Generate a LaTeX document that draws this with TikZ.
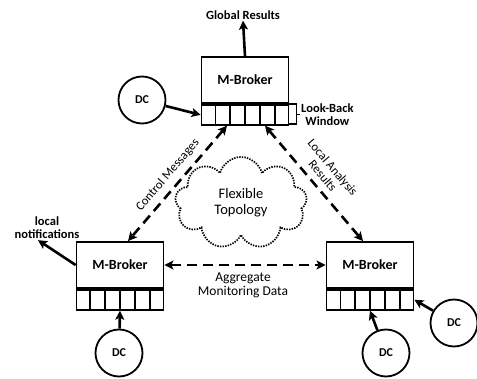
\documentclass[tikz,border=0pt]{standalone}
\usepackage{fontspec}
\setmainfont{Carlito}
\usetikzlibrary{shapes.symbols,arrows.meta,calc}

\begin{document}
\begin{tikzpicture}[x=1pt, y=-1pt,
		broker/.style={rectangle, draw, line width=1.8pt, minimum width=87pt, minimum height=46pt, font=\bfseries\fontsize{14}{16}\selectfont},
		queue/.style={rectangle, draw, line width=1.8pt, minimum width=87pt, minimum height=20pt, anchor=north},
		dc/.style={circle, draw, line width=1.8pt, minimum size=47pt, font=\bfseries\fontsize{12}{14}\selectfont},
		lbl/.style={align=center, inner sep=1pt, font=\fontsize{12.5}{13}\selectfont},
		blbl/.style={lbl, font=\bfseries\fontsize{12.5}{13}\selectfont},
		feed/.style={-{Stealth[length=9pt,width=9pt,inset=2pt]}, line width=2.6pt},
		link/.style={{Stealth[length=9pt,width=9pt,inset=2pt]}-{Stealth[length=9pt,width=9pt,inset=2pt]}, line width=2.6pt, dash pattern=on 10pt off 6pt},
	]
		\useasboundingbox (0, 0) rectangle (477, 379);
		% brokers and their queues
		\path (245, 80) node(topb) [broker] {M-Broker};
		\path (topb.south) node(topq) [queue] {};
		\path (120, 265) node(leftb) [broker] {M-Broker};
		\path (leftb.south) node(leftq) [queue] {};
		\path (370, 265) node(rightb) [broker] {M-Broker};
		\path (rightb.south) node(rightq) [queue] {};
		\foreach \q in {topq, leftq, rightq}
			\foreach \i in {1,...,5}
				\draw [line width=1.8pt] ($(\q.north west)!\i/6!(\q.north east)$) -- ($(\q.south west)!\i/6!(\q.south east)$);
		% data collectors
		\path (142, 100) node(topdc) [dc] {DC};
		\path (119, 353) node(leftdc) [dc] {DC};
		\path (386, 353) node(rightdc) [dc] {DC};
		\path (454, 323) node(edgedc) [dc] {DC};
		% texts
		\path (243, 15) node(glob) [blbl] {Global Results};
		\path (47, 228) node(notif) [blbl] {local\\notifications};
		\path (300, 115) node(window) [blbl, anchor=west] {Look-Back\\Window};
		\path (241, 203) node(cloud) [cloud, cloud puffs=9, aspect=1.5, draw, line width=1.7pt, dash pattern=on 1.4pt off 1.2pt, minimum width=132pt, minimum height=92pt, align=center, font=\fontsize{14.5}{16}\selectfont] {Flexible\\Topology};
		\path (243, 285) node(aggr) [lbl, font=\fontsize{13.5}{14}\selectfont] {Aggregate\\Monitoring Data};
		% look-back bracket
		\draw [line width=1.3pt] (topq.north east) -- ++(7, 0) -- ++(0, 20) -- ++(-7, 0);
		\draw [line width=1.3pt] ([xshift=7pt]topq.east) -- ++(4, 0);
		% arrows
		\coordinate (notiftip) at ([xshift=-9pt]notif.south);
		\draw [feed] (topb.north) to (glob.south);
		\draw [feed] (leftb.west) to (notiftip);
		\draw [feed] (topdc) to (topq.west);
		\draw [feed] (leftdc) to (leftq.south);
		\draw [feed] (rightdc) to (rightq.south);
		\draw [feed] (edgedc) to (rightq.east);
		\draw [link] ([xshift=-18pt]topq.south) to node[lbl, sloped, above=5pt] {Control Messages} ([xshift=8pt]leftb.north);
		\draw [link] ([xshift=20pt]topq.south) to node[lbl, sloped, above=5pt] {Local Analysis\\Results} ([xshift=-7pt]rightb.north);
		\draw [link] (leftb.east) to (rightb.west);
	\end{tikzpicture}
\end{document}
